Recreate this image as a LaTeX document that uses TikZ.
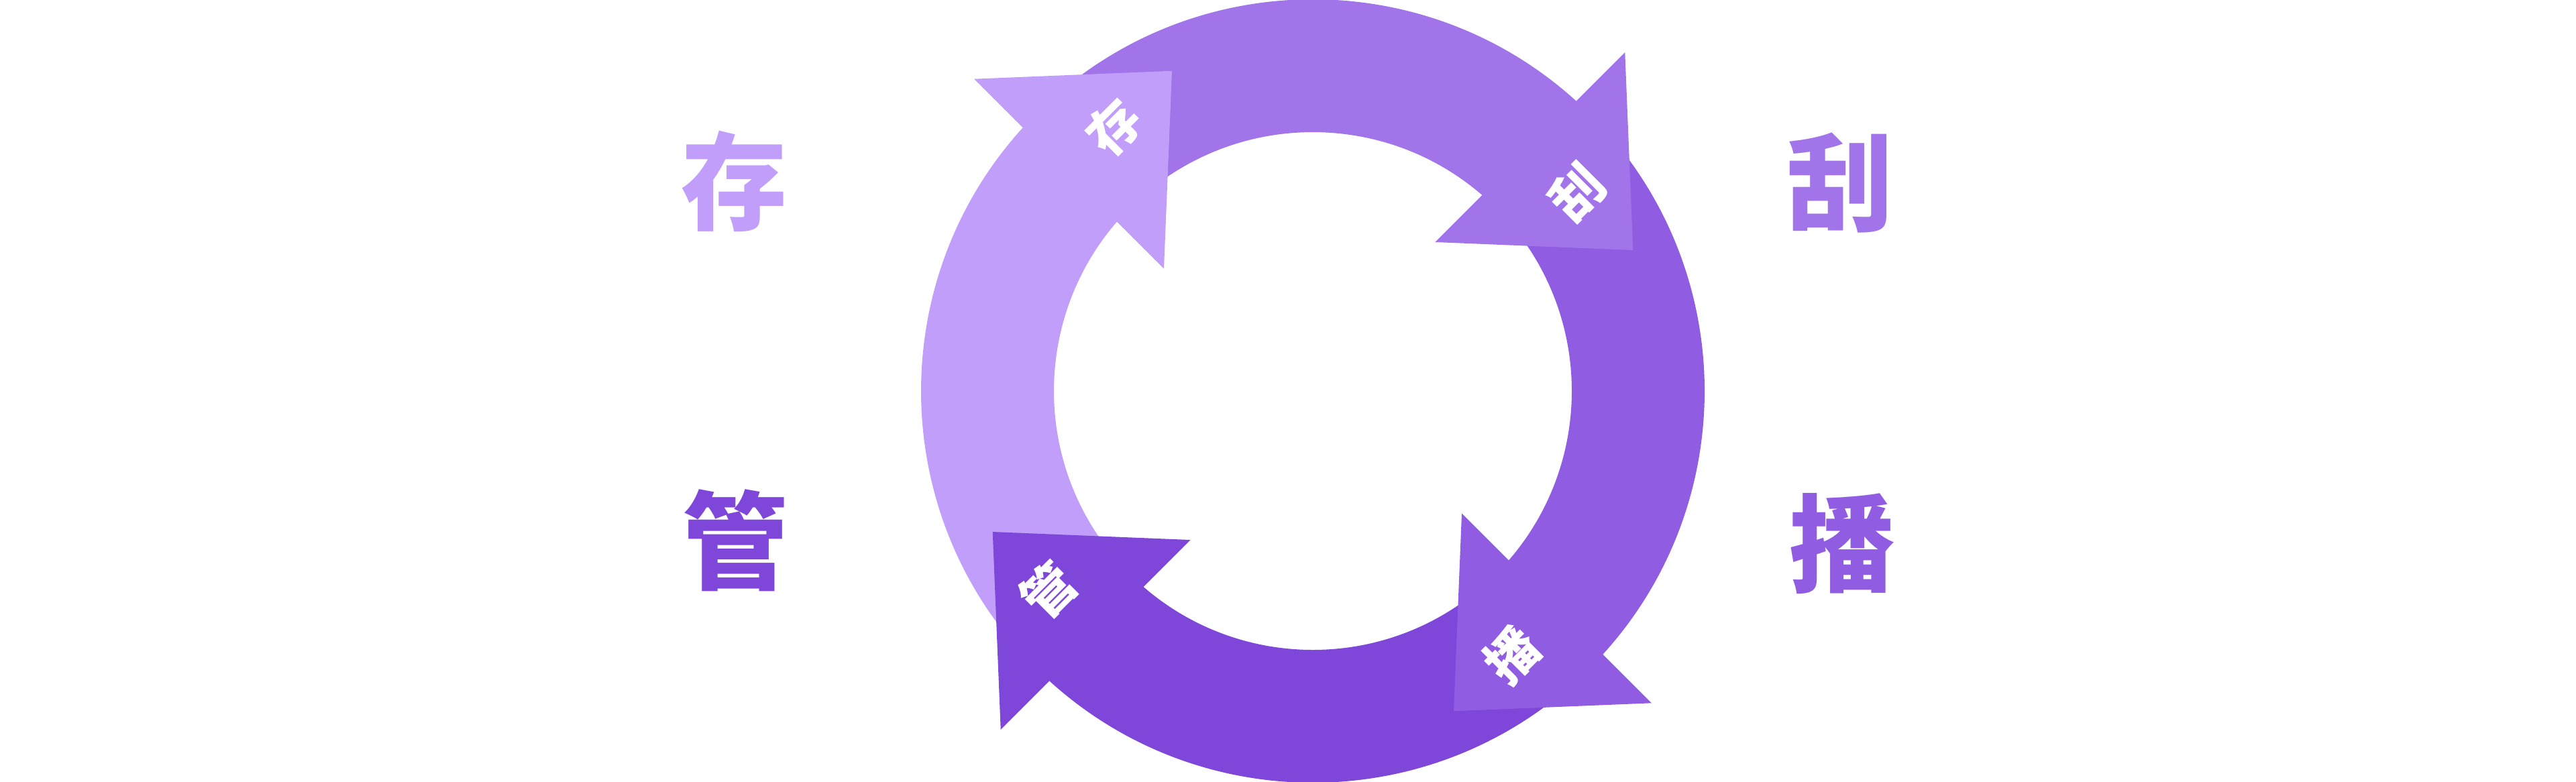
\documentclass[tikz,border=0pt]{standalone}
\usepackage{fontspec}
\newfontfamily\cjk{Noto Sans CJK SC}
\usetikzlibrary{calc}
\definecolor{cA}{HTML}{C09EF9}
\definecolor{cB}{HTML}{A175E9}
\definecolor{cC}{HTML}{905CE2}
\definecolor{cD}{HTML}{7E46D9}
\begin{document}
\begin{tikzpicture}[
  ringlabel/.style={font=\cjk\bfseries\fontsize{45pt}{50pt}\selectfont, inner sep=0pt, anchor=center},
  headlabel/.style={font=\cjk\bfseries\fontsize{22pt}{24pt}\selectfont, text=white, inner sep=0pt, rotate=45, anchor=center}
]
\useasboundingbox (0,0) rectangle (38.40,-11.65);
\coordinate (C) at (19.57,-5.83);
% arrow bodies (annular sectors)
\foreach \col/\th [evaluate=\th as \ta using \th+88] in {cA/135, cB/45, cC/-45, cD/-135}{
  \fill[\col] ($(C)+(\ta:5.84)$) arc[start angle=\ta, end angle=\th, radius=5.84]
     -- ($(C)+(\th:3.86)$) arc[start angle=\th, end angle=\ta, radius=3.86] -- cycle;
}
% arrow heads
\foreach \col/\th in {cA/135, cB/45, cC/-45, cD/-135}{
  \fill[\col] ($(C)+(\th:2.86)+(\th+90:0.28)$) -- ($(C)+(\th:6.86)+(\th+90:0.28)$)
     -- ($(C)+(\th:4.86)+(\th-90:1.89)$) -- cycle;
}
% labels in the heads
\node[headlabel] (h1) at ($(C)+(127:4.93)$) {存};
\node[headlabel] (h2) at ($(C)+(37:4.93)$) {刮};
\node[headlabel] (h3) at ($(C)+(-53:4.93)$) {播};
\node[headlabel] (h4) at ($(C)+(-143:4.93)$) {管};
% side labels
\node[ringlabel, text=cA] (t1) at (10.95,-2.70) {存};
\node[ringlabel, text=cB] (t2) at (27.44,-2.72) {刮};
\node[ringlabel, text=cD] (t3) at (10.97,-8.06) {管};
\node[ringlabel, text=cC] (t4) at (27.47,-8.11) {播};
\end{tikzpicture}
\end{document}
